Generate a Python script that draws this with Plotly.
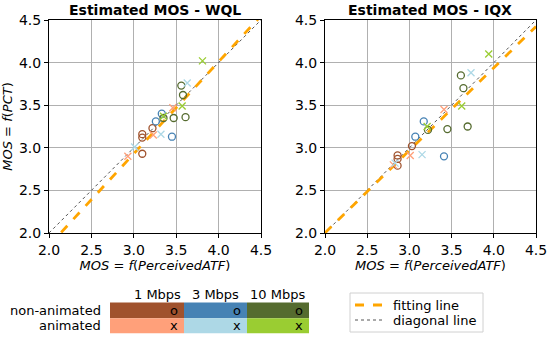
import plotly.graph_objects as go

W, H = 550, 337
def px(x): return x / W
def py(y): return 1 - y / H

# ---- data ----
categories = ["1 Mbps non-animated", "3 Mbps non-animated", "10 Mbps non-animated",
              "1 Mbps animated", "3 Mbps animated", "10 Mbps animated"]
colors = ["#a0522d", "#4682b4", "#556b2f", "#ffa07a", "#add8e6", "#9acd32"]
symbols = ["circle-open", "circle-open", "circle-open", "x-thin-open", "x-thin-open", "x-thin-open"]

# WQL panel
wql_x = [
    [3.10, 3.10, 3.10, 3.22],
    [3.33, 3.26, 3.45],
    [3.56, 3.58, 3.35, 3.47, 3.61],
    [3.23, 2.93, 3.46],
    [3.32, 3.63, 3.01],
    [3.81, 3.57, 3.35],
]
wql_y = [
    [3.16, 3.12, 2.93, 3.23],
    [3.40, 3.31, 3.13],
    [3.73, 3.62, 3.35, 3.35, 3.36],
    [3.15, 2.90, 3.47],
    [3.16, 3.76, 3.01],
    [4.02, 3.49, 3.37],
]
# IQX panel
iqx_x = [
    [2.86, 2.86, 2.86, 3.03],
    [3.17, 3.07, 3.41],
    [3.61, 3.64, 3.22, 3.45, 3.69],
    [3.01, 3.41, 2.81],
    [3.15, 3.73, 2.83],
    [3.94, 3.62, 3.21],
]
iqx_y = [
    [2.91, 2.87, 2.79, 3.02],
    [3.31, 3.13, 2.90],
    [3.85, 3.70, 3.21, 3.22, 3.25],
    [2.91, 3.45, 2.80],
    [2.92, 3.88, 2.82],
    [4.10, 3.49, 3.25],
]
fit_wql = (1.079, -0.306)   # slope, intercept
fit_iqx = (0.969, 0.063)
axis_range = [2.0, 4.5]
tick_vals = [2.0, 2.5, 3.0, 3.5, 4.0, 4.5]
tick_text = ["2.0", "2.5", "3.0", "3.5", "4.0", "4.5"]

bitrates = ["1 Mbps", "3 Mbps", "10 Mbps"]
rows = ["non-animated", "animated"]
legend_labels = ["fitting line", "diagonal line"]

FIT_STYLE = dict(color="orange", width=2.8, dash="dash")
DIAG_STYLE = dict(color="#555555", width=1, dash="dot")

fig = go.Figure()

panels = [("x", "y", wql_x, wql_y, fit_wql), ("x2", "y2", iqx_x, iqx_y, fit_iqx)]
for pi, (xa, ya, xs, ys, fit) in enumerate(panels):
    fx = axis_range
    fy = [fit[0] * v + fit[1] for v in fx]
    fig.add_trace(go.Scatter(x=fx, y=fx, mode="lines", xaxis=xa, yaxis=ya,
                             line=DIAG_STYLE, name=legend_labels[1], showlegend=False))
    fig.add_trace(go.Scatter(x=fx, y=fy, mode="lines", xaxis=xa, yaxis=ya,
                             line=FIT_STYLE, name=legend_labels[0], showlegend=False))
    for ci in range(len(categories)):
        fig.add_trace(go.Scatter(x=xs[ci], y=ys[ci], mode="markers", xaxis=xa, yaxis=ya,
                                 marker=dict(symbol=symbols[ci], color=colors[ci], size=7,
                                             line=dict(width=1.3, color=colors[ci])),
                                 name=categories[ci], showlegend=False))

axis_common = dict(range=axis_range, tickvals=tick_vals, ticktext=tick_text,
                   showgrid=True, gridcolor="#b0b0b0", gridwidth=1,
                   showline=True, linecolor="black", linewidth=1, mirror=True,
                   ticks="outside", ticklen=4, tickcolor="black", automargin=False,
                   tickfont=dict(size=14, color="black"), zeroline=False)

xtitle = "<i>MOS</i> = <i>f</i>(<i>PerceivedATF</i>)"
fig.update_layout(
    width=W, height=H, margin=dict(l=0, r=0, t=0, b=0, autoexpand=False),
    paper_bgcolor="white", plot_bgcolor="white",
    font=dict(family="DejaVu Sans", color="black"),
    xaxis=dict(domain=[px(49), px(261)], anchor="y",
               title=dict(text=xtitle, font=dict(size=13), standoff=1), **axis_common),
    yaxis=dict(domain=[py(233), py(20)], anchor="x",
               title=dict(text="<i>MOS</i> = <i>f</i>(<i>PCT</i>)", font=dict(size=13), standoff=3),
               **axis_common),
    xaxis2=dict(domain=[px(325), px(536)], anchor="y2",
                title=dict(text=xtitle, font=dict(size=13), standoff=1), **axis_common),
    yaxis2=dict(domain=[py(233), py(20)], anchor="x2", **axis_common),
    showlegend=False,
)

# panel titles
for cx, txt in [(155, "Estimated MOS - WQL"), (430, "Estimated MOS - IQX")]:
    fig.add_annotation(x=px(cx), y=py(10), xref="paper", yref="paper", text="<b>" + txt + "</b>",
                       showarrow=False, font=dict(size=14), xanchor="center", yanchor="middle")

# category table
col_edges = [110, 184, 247, 309]
row_edges = [302.5, 318.3, 333.3]
sym_text = ["o", "x"]
for r in range(2):
    for c in range(3):
        fig.add_shape(type="rect", xref="paper", yref="paper",
                      x0=px(col_edges[c]), x1=px(col_edges[c + 1]),
                      y0=py(row_edges[r + 1]), y1=py(row_edges[r]),
                      fillcolor=colors[r * 3 + c], line=dict(width=0))
        fig.add_annotation(x=px(col_edges[c + 1] - 10), y=py((row_edges[r] + row_edges[r + 1]) / 2),
                           xref="paper", yref="paper", text=sym_text[r], showarrow=False,
                           font=dict(size=13), xanchor="center", yanchor="middle")
    fig.add_annotation(x=px(103), y=py((row_edges[r] + row_edges[r + 1]) / 2), xref="paper", yref="paper",
                       text=rows[r], showarrow=False, font=dict(size=13),
                       xanchor="right", yanchor="middle")
for c, b in enumerate(bitrates):
    fig.add_annotation(x=px([157, 215, 277][c]), y=py(294), xref="paper", yref="paper",
                       text=b, showarrow=False, font=dict(size=13),
                       xanchor="center", yanchor="middle")

# line legend box
fig.add_shape(type="rect", xref="paper", yref="paper", x0=px(350), x1=px(483),
              y0=py(332), y1=py(293), line=dict(color="#d0d0d0", width=1), fillcolor="white")
for i, (lab, st) in enumerate(zip(legend_labels, [FIT_STYLE, DIAG_STYLE])):
    yy = [305, 320][i]
    fig.add_shape(type="line", xref="paper", yref="paper", x0=px(355), x1=px(382),
                  y0=py(yy), y1=py(yy), line=st)
    fig.add_annotation(x=px(391), y=py(yy), xref="paper", yref="paper", text=lab,
                       showarrow=False, font=dict(size=13), xanchor="left", yanchor="middle")

fig.write_html("out.html", config={"displayModeBar": False},
               post_script="document.body.style.margin='0';document.body.style.overflow='hidden';")
